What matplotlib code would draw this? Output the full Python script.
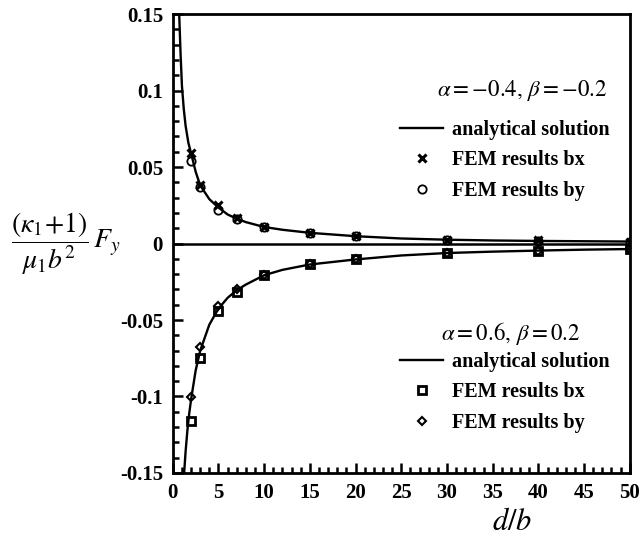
import numpy as np
import matplotlib.pyplot as plt
from matplotlib.lines import Line2D
from matplotlib.ticker import MultipleLocator

plt.rcParams['font.family'] = 'Liberation Serif'
plt.rcParams['mathtext.fontset'] = 'stix'

# analytical curves
d_top = [0.7, 0.85, 1.0, 1.2, 1.4, 1.7, 2, 2.5, 3, 4, 5, 6, 7, 8, 10, 12, 15, 20, 25, 30, 35, 40, 45, 50]
f_top = [0.15, 0.124, 0.103, 0.088, 0.077, 0.066, 0.059, 0.047, 0.038, 0.029, 0.0235, 0.019, 0.0162, 0.014,
         0.0108, 0.0090, 0.0070, 0.0048, 0.0033, 0.0025, 0.0020, 0.0017, 0.0015, 0.0013]
d_bot = [1.24, 1.4, 1.6, 1.8, 2, 2.5, 3, 4, 5, 6, 7, 8, 10, 12, 15, 20, 25, 30, 35, 40, 45, 50]
f_bot = [-0.15, -0.136, -0.122, -0.111, -0.102, -0.083, -0.070, -0.053, -0.0425, -0.0355, -0.0305, -0.0268,
         -0.0207, -0.0172, -0.0137, -0.0104, -0.0078, -0.0062, -0.0053, -0.0046, -0.0040, -0.0036]

# FEM points
d_fem = [2, 3, 5, 7, 10, 15, 20, 30, 40, 50]
top_bx = [0.0595, 0.038, 0.0250, 0.0165, 0.0109, 0.0070, 0.0049, 0.0024, 0.0020, 0.0012]
top_by = [0.0540, 0.037, 0.0222, 0.0160, 0.0107, 0.0069, 0.0047, 0.0022, 0.0019, 0.0010]
bot_bx = [-0.116, -0.0747, -0.0438, -0.0315, -0.0207, -0.0137, -0.0104, -0.0062, -0.0047, -0.0036]
bot_by = [-0.1005, -0.0678, -0.0410, -0.0295, -0.0205, -0.0136, -0.0103, -0.0061, -0.0046, -0.0035]

labels = ['analytical solution', 'FEM results bx', 'FEM results by']

fig = plt.figure(figsize=(6.4, 5.43), dpi=100)
ax = fig.add_axes([0.270, 0.129, 0.714, 0.845])

ax.axhline(0, color='black', lw=1.8, zorder=1)
ax.plot(d_top, f_top, color='black', lw=1.7, zorder=2)
ax.plot(d_bot, f_bot, color='black', lw=1.7, zorder=2)
ax.plot(d_fem, top_bx, 'x', color='black', ms=6, mew=2.2, zorder=3)
ax.plot(d_fem, top_by, 'o', mfc='none', mec='black', ms=6, mew=1.3, zorder=3)
ax.plot(d_fem, bot_bx, 's', mfc='none', mec='black', ms=6, mew=2, zorder=3)
ax.plot(d_fem, bot_by, 'D', mfc='none', mec='black', ms=4.5, mew=1.5, zorder=3)

ax.set_xlim(0, 50)
ax.set_ylim(-0.15, 0.15)
ax.xaxis.set_major_locator(MultipleLocator(5))
ax.xaxis.set_minor_locator(MultipleLocator(1))
ax.yaxis.set_minor_locator(MultipleLocator(0.01))
ax.set_yticks([-0.15, -0.1, -0.05, 0, 0.05, 0.1, 0.15])
ax.set_yticklabels(['-0.15', '-0.1', '-0.05', '0', '0.05', '0.1', '0.15'])
ax.tick_params(which='both', direction='in', width=1.8, top=False, right=False, labelsize=15)
ax.tick_params(which='major', length=7, pad=7)
ax.tick_params(which='minor', length=4.5)
for lab in ax.get_xticklabels() + ax.get_yticklabels():
    lab.set_fontweight('bold')
for s in ax.spines.values():
    s.set_linewidth(2)

fig.text(0.103, 0.552, r'$\dfrac{(\kappa_1\!+\!1)}{\mu_1 b^2}\,F_y$', fontsize=20, ha='center', va='center')
fig.text(0.80, 0.038, r'$d/b$', fontsize=22, ha='center', va='center')

leg_font = {'size': 14.5, 'weight': 'bold'}
leg_kw = dict(loc='upper left', frameon=False, prop=leg_font, handlelength=2.15,
              handletextpad=0.45, labelspacing=0.52, borderaxespad=0, borderpad=0)
h1 = [Line2D([], [], color='black', lw=1.7),
      Line2D([], [], ls='none', marker='x', color='black', ms=6, mew=2.2),
      Line2D([], [], ls='none', marker='o', mfc='none', mec='black', ms=6, mew=1.3)]
l1 = ax.legend(h1, labels, bbox_to_anchor=(0.497, 0.770), **leg_kw)
ax.add_artist(l1)
h2 = [Line2D([], [], color='black', lw=1.7),
      Line2D([], [], ls='none', marker='s', mfc='none', mec='black', ms=6, mew=2),
      Line2D([], [], ls='none', marker='D', mfc='none', mec='black', ms=4.5, mew=1.5)]
ax.legend(h2, labels, bbox_to_anchor=(0.497, 0.264), **leg_kw)

ax.text(0.952, 0.834, r'$\alpha = -0.4,\, \beta = -0.2$', transform=ax.transAxes, ha='right', va='center', fontsize=16.5)
ax.text(0.891, 0.305, r'$\alpha = 0.6,\, \beta = 0.2$', transform=ax.transAxes, ha='right', va='center', fontsize=16.5)

fig.savefig('out.png', dpi=100)
